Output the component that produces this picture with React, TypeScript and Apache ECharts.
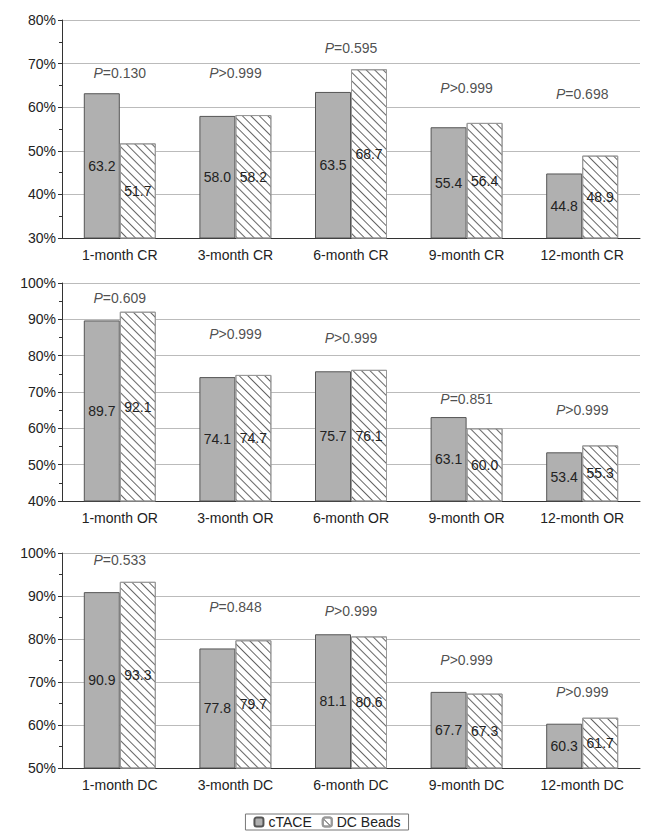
import React, { useEffect, useRef } from 'react';
import * as echarts from 'echarts';

const cats1 = ['1-month CR', '3-month CR', '6-month CR', '9-month CR', '12-month CR'];
const cats2 = ['1-month OR', '3-month OR', '6-month OR', '9-month OR', '12-month OR'];
const cats3 = ['1-month DC', '3-month DC', '6-month DC', '9-month DC', '12-month DC'];

const ctace1 = [63.2, 58.0, 63.5, 55.4, 44.8];
const beads1 = [51.7, 58.2, 68.7, 56.4, 48.9];
const ctace2 = [89.7, 74.1, 75.7, 63.1, 53.4];
const beads2 = [92.1, 74.7, 76.1, 60.0, 55.3];
const ctace3 = [90.9, 77.8, 81.1, 67.7, 60.3];
const beads3 = [93.3, 79.7, 80.6, 67.3, 61.7];

const pText1 = ['=0.130', '>0.999', '=0.595', '>0.999', '=0.698'];
const pText2 = ['=0.609', '>0.999', '>0.999', '=0.851', '>0.999'];
const pText3 = ['=0.533', '=0.848', '>0.999', '>0.999', '>0.999'];
// vertical placement of the P labels, in axis units
const pPos1 = [67.8, 67.8, 73.6, 64.4, 63];
const pPos2 = [95.9, 86, 84.9, 68.1, 65];
const pPos3 = [98.4, 87.4, 86.5, 75.1, 67.7];

const axes = [
  { cats: cats1, a: ctace1, b: beads1, p: pText1, pp: pPos1, min: 30, max: 80 },
  { cats: cats2, a: ctace2, b: beads2, p: pText2, pp: pPos2, min: 40, max: 100 },
  { cats: cats3, a: ctace3, b: beads3, p: pText3, pp: pPos3, min: 50, max: 100 },
];

const grids = [
  { top: 20, height: 218 },
  { top: 283, height: 218 },
  { top: 553, height: 215 },
];

const FONT = 'Liberation Sans, Arial, sans-serif';

const App: React.FC = () => {
  const ref = useRef<HTMLDivElement>(null);

  useEffect(() => {
    document.body.style.margin = '0';
    if (!ref.current) return;
    const chart = echarts.init(ref.current, null, { renderer: 'svg' });
    const hatch = {
      symbol: 'rect',
      symbolSize: 1,
      color: '#666',
      backgroundColor: '#fff',
      dashArrayX: [1, 0],
      dashArrayY: [1, 5],
      rotation: Math.PI / 4,
    };
    const series: any[] = [];
    axes.forEach((ax, i) => {
      const lbl = { show: true, position: 'inside', color: '#222', fontSize: 14, fontFamily: FONT };
      series.push({
        name: 'cTACE', type: 'bar', xAxisIndex: i, yAxisIndex: i, data: ax.a,
        barWidth: 36, barGap: '0%',
        itemStyle: { color: '#b0b0b0', borderColor: '#555', borderWidth: 1 },
        label: { ...lbl, formatter: (p: any) => p.value.toFixed(1) },
      });
      series.push({
        name: 'DC Beads', type: 'bar', xAxisIndex: i, yAxisIndex: i, data: ax.b,
        barWidth: 36, barGap: '0%',
        itemStyle: { color: '#fff', borderColor: '#999', borderWidth: 1, decal: hatch },
        label: { ...lbl, formatter: (p: any) => p.value.toFixed(1) },
      });
      series.push({
        type: 'scatter', xAxisIndex: i, yAxisIndex: i, symbolSize: 0, silent: true,
        data: ax.pp.map((v, k) => ({ value: v, p: ax.p[k] })),
        label: {
          show: true, position: 'inside',
          formatter: (p: any) => '{i|P}' + p.data.p,
          color: '#222', fontSize: 14, fontFamily: FONT,
          rich: { i: { fontStyle: 'italic', fontSize: 14, fontFamily: FONT, color: '#222' } },
        },
      });
    });
    chart.setOption({
      animation: false,
      grid: grids.map(g => ({ left: 62, right: 14, top: g.top, height: g.height })),
      legend: {
        data: ['cTACE', 'DC Beads'],
        bottom: 1, left: 'center',
        itemWidth: 9, itemHeight: 9, itemGap: 10,
        padding: [1, 8], borderColor: '#777', borderWidth: 1,
        textStyle: { fontSize: 14, fontFamily: FONT, color: '#222' },
      },
      xAxis: axes.map((ax, i) => ({
        type: 'category', gridIndex: i, data: ax.cats,
        axisLine: { lineStyle: { color: '#333' } },
        axisTick: { lineStyle: { color: '#333' }, length: 5 },
        axisLabel: { color: '#222', fontSize: 14, fontFamily: FONT, margin: 10 },
      })),
      yAxis: axes.map((ax, i) => ({
        type: 'value', gridIndex: i, min: ax.min, max: ax.max, interval: 10,
        axisLine: { show: true, lineStyle: { color: '#333' } },
        axisTick: { show: true, lineStyle: { color: '#333' }, length: 4 },
        minorTick: { show: true, splitNumber: 2, length: 3, lineStyle: { color: '#333' } },
        splitLine: { lineStyle: { color: '#bbb' } },
        axisLabel: { color: '#222', fontSize: 14, fontFamily: FONT, formatter: '{value}%', margin: 6 },
      })),
      series,
    });
    return () => chart.dispose();
  }, []);

  return <div ref={ref} style={{ width: 654, height: 831 }} />;
};

export default App;
